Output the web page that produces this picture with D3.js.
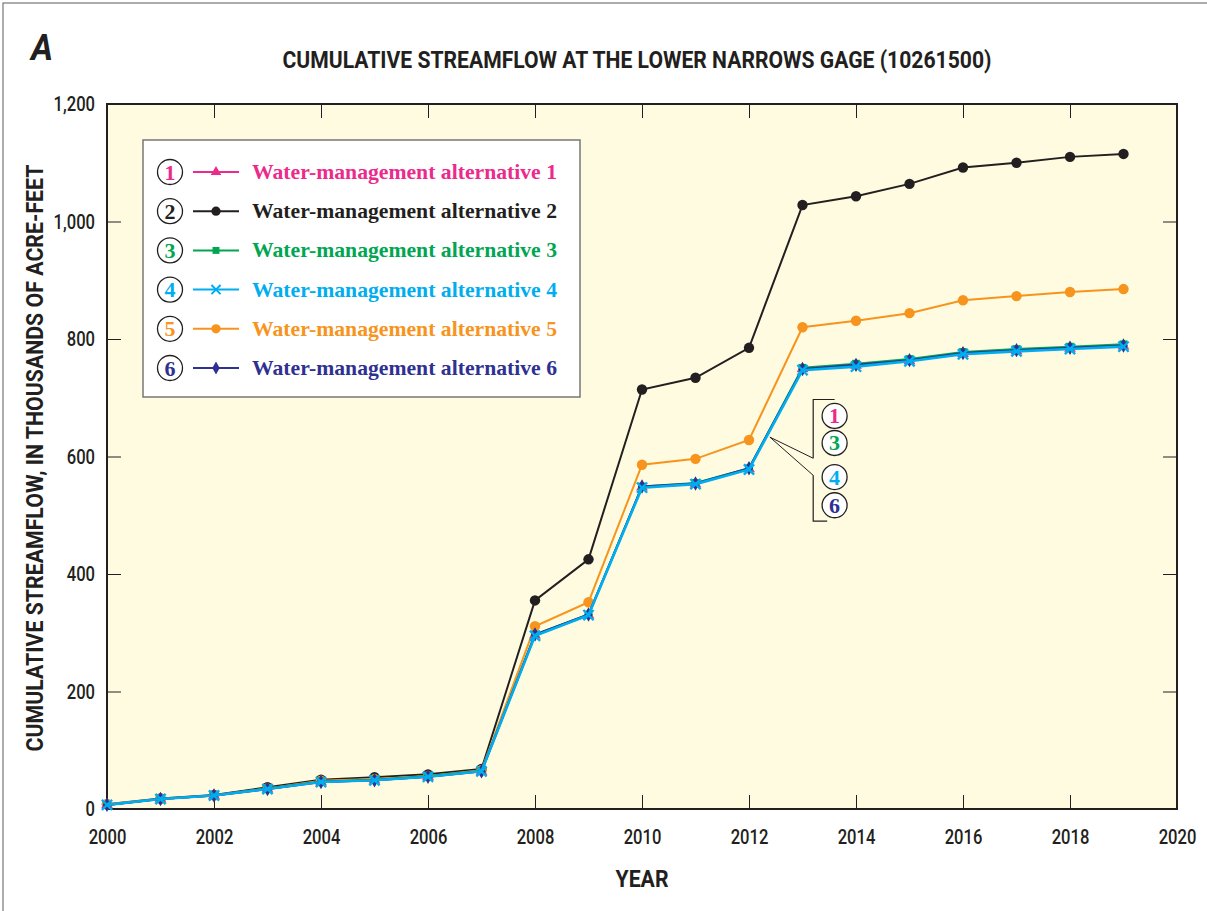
<!DOCTYPE html>
<html>
<head>
<meta charset="utf-8">
<script src="https://cdn.jsdelivr.net/npm/d3@7"></script>
<style>
  body { margin: 0; background: #fff; }
  .cond { font-family: "Liberation Sans Narrow", "Roboto", "Liberation Sans", sans-serif; }
  .serif { font-family: "Liberation Serif", "Times New Roman", serif; font-weight: bold; }
</style>
</head>
<body>
<div id="chart"></div>
<script>
// data (thousands of acre-feet)
const years = [2000, 2001, 2002, 2003, 2004, 2005, 2006, 2007, 2008, 2009,
               2010, 2011, 2012, 2013, 2014, 2015, 2016, 2017, 2018, 2019];
const alt1 = [7, 17, 23, 34, 46, 49, 55, 64, 296, 330, 548, 553, 579, 749, 755, 763, 775, 780, 784, 788];
const alt2 = [8, 18, 24, 37, 50, 54, 59, 68, 355, 425, 714, 734, 785, 1028, 1043, 1064, 1092, 1100, 1110, 1115];
const alt3 = [7, 17, 23, 35, 47, 50, 56, 65, 297, 331, 549, 555, 580, 751, 758, 766, 778, 783, 787, 791];
const alt4 = [7, 17, 23, 34, 46, 49, 55, 64, 295, 330, 547, 553, 578, 747, 753, 762, 774, 779, 783, 787];
const alt5 = [8, 17, 23, 35, 48, 51, 56, 66, 311, 352, 586, 596, 628, 820, 831, 844, 866, 873, 880, 885];
const alt6 = [7, 17, 23, 34, 46, 49, 55, 64, 297, 331, 549, 554, 580, 749, 756, 764, 776, 781, 785, 789];

const xTicks = [2000, 2002, 2004, 2006, 2008, 2010, 2012, 2014, 2016, 2018, 2020];
const yTicks = [0, 200, 400, 600, 800, 1000, 1200];

const series = [
  {id: 2, name: "Water-management alternative 2", values: alt2, color: "#231f20", symbol: d3.symbolCircle, size: 85},
  {id: 5, name: "Water-management alternative 5", values: alt5, color: "#f7941d", symbol: d3.symbolCircle, size: 85},
  {id: 1, name: "Water-management alternative 1", values: alt1, color: "#ec2a8c", symbol: d3.symbolTriangle, size: 60},
  {id: 3, name: "Water-management alternative 3", values: alt3, color: "#00a651", symbol: d3.symbolSquare, size: 60},
  {id: 6, name: "Water-management alternative 6", values: alt6, color: "#2e3192", symbol: d3.symbolDiamond, size: 60},
  {id: 4, name: "Water-management alternative 4", values: alt4, color: "#00aeef", symbol: d3.symbolX, size: 70}
];

const W = 1207, H = 911;
const margin = {top: 104, right: 30, bottom: 102, left: 107},
      width = 1177 - margin.left,
      height = 809 - margin.top;

const svg = d3.select("#chart")
  .append("svg")
    .attr("width", W)
    .attr("height", H);

// squeeze a text sideways to mimic the condensed face of the original
function condense(sel, k) {
  sel.each(function() {
    const len = this.getComputedTextLength();
    d3.select(this).attr("textLength", len * k).attr("lengthAdjust", "spacingAndGlyphs");
  });
}

// outer frame of the figure
svg.append("rect")
  .attr("x", 3).attr("y", 3)
  .attr("width", W + 10).attr("height", H + 10)
  .attr("fill", "none")
  .attr("stroke", "#777")
  .attr("stroke-width", 1.2);

const g = svg.append("g")
  .attr("transform", `translate(${margin.left},${margin.top})`);

const x = d3.scaleLinear().domain([2000, 2020]).range([0, width]);
const y = d3.scaleLinear().domain([0, 1200]).range([height, 0]);

// plot background
g.append("rect")
  .attr("width", width)
  .attr("height", height)
  .attr("fill", "#fefbe0");

// axes, ticks point inward
g.append("g")
  .attr("class", "cond")
  .attr("transform", `translate(0,${height})`)
  .call(d3.axisBottom(x).tickValues(xTicks).tickFormat(d3.format("d"))
        .tickSizeInner(-14).tickSizeOuter(0).tickPadding(20));
g.append("g")
  .attr("class", "cond")
  .call(d3.axisLeft(y).tickValues(yTicks).tickFormat(d3.format(","))
        .tickSizeInner(-14).tickSizeOuter(0).tickPadding(12));
g.append("g")
  .call(d3.axisTop(x).tickValues(xTicks).tickFormat("").tickSizeInner(-14).tickSizeOuter(0));
g.append("g")
  .attr("transform", `translate(${width},0)`)
  .call(d3.axisRight(y).tickValues(yTicks).tickFormat("").tickSizeInner(-14).tickSizeOuter(0));

g.selectAll(".domain").remove();
g.selectAll(".tick line").attr("stroke", "#231f20").attr("stroke-width", 1);
g.selectAll(".tick text")
  .attr("fill", "#231f20")
  .style("font-size", "21px")
  .style("font-weight", "500")
  .call(condense, 0.79);

// frame around the plot
g.append("rect")
  .attr("width", width)
  .attr("height", height)
  .attr("fill", "none")
  .attr("stroke", "#231f20")
  .attr("stroke-width", 2);

// lines + markers
const line = d3.line()
  .x((d, i) => x(years[i]))
  .y(d => y(d));

series.forEach(s => {
  g.append("path")
    .datum(s.values)
    .attr("fill", "none")
    .attr("stroke", s.color)
    .attr("stroke-width", s.id === 4 ? 2.6 : 2)
    .attr("d", line);

  g.selectAll(".pt" + s.id)
    .data(s.values)
    .enter().append("path")
      .attr("class", "pt" + s.id)
      .attr("transform", (d, i) => `translate(${x(years[i])},${y(d)})`)
      .attr("d", d3.symbol().type(s.symbol).size(s.size))
      .attr("fill", s.id === 4 ? "none" : s.color)
      .attr("stroke", s.id === 4 ? s.color : "none")
      .attr("stroke-width", 2.4);
});

// legend
const legendOrder = [1, 2, 3, 4, 5, 6];
const legend = g.append("g")
  .attr("transform", `translate(${143 - margin.left},${140 - margin.top})`);

legend.append("rect")
  .attr("width", 437)
  .attr("height", 257)
  .attr("fill", "#fff")
  .attr("stroke", "#777")
  .attr("stroke-width", 1.5);

legendOrder.forEach((id, i) => {
  const s = series.find(d => d.id === id);
  const row = legend.append("g")
    .attr("transform", `translate(0,${32 + i * 39.2})`);

  row.append("circle")
    .attr("cx", 27).attr("cy", 0).attr("r", 12.5)
    .attr("fill", "#fff")
    .attr("stroke", "#231f20")
    .attr("stroke-width", 1.3);
  row.append("text")
    .attr("class", "serif")
    .attr("x", 27).attr("y", 7.5)
    .attr("text-anchor", "middle")
    .style("font-size", "22px")
    .attr("fill", s.color)
    .text(id);

  row.append("line")
    .attr("x1", 50).attr("x2", 96)
    .attr("stroke", s.color)
    .attr("stroke-width", 2);
  row.append("path")
    .attr("transform", "translate(73,0)")
    .attr("d", d3.symbol().type(s.symbol).size(s.size * 0.8))
    .attr("fill", id === 4 ? "none" : s.color)
    .attr("stroke", id === 4 ? s.color : "none")
    .attr("stroke-width", 2);

  row.append("text")
    .attr("class", "serif")
    .attr("x", 109).attr("y", 7)
    .attr("textLength", 305).attr("lengthAdjust", "spacingAndGlyphs")
    .style("font-size", "21.5px")
    .attr("fill", s.color)
    .text(s.name);
});

// callout for the overlapping alternatives 1, 3, 4, 6
const callIds = [1, 3, 4, 6];
const callY = [669, 623, 565, 517];
const bx = x(2013.2), cx = x(2013.6);
const anchor = [x(2012.39), y(633)];

g.append("path")
  .attr("d", `M${cx},${y(697)}H${bx}V${y(597)}`)
  .attr("fill", "none").attr("stroke", "#231f20").attr("stroke-width", 1.2);
g.append("path")
  .attr("d", `M${bx},${y(568)}V${y(490)}H${bx + 14}`)
  .attr("fill", "none").attr("stroke", "#231f20").attr("stroke-width", 1.2);
g.append("path")
  .attr("d", `M${bx},${y(597)}L${anchor[0]},${anchor[1]}L${bx},${y(568)}`)
  .attr("fill", "none").attr("stroke", "#231f20").attr("stroke-width", 1);

callIds.forEach((id, i) => {
  const s = series.find(d => d.id === id);
  g.append("circle")
    .attr("cx", cx).attr("cy", y(callY[i])).attr("r", 12.5)
    .attr("fill", "#fff").attr("stroke", "#231f20").attr("stroke-width", 1.3);
  g.append("text")
    .attr("class", "serif")
    .attr("x", cx).attr("y", y(callY[i]) + 7.5)
    .attr("text-anchor", "middle")
    .style("font-size", "22px")
    .attr("fill", s.color)
    .text(id);
});

// titles
svg.append("text")
  .attr("x", 31).attr("y", 60)
  .attr("class", "cond")
  .attr("textLength", 22).attr("lengthAdjust", "spacingAndGlyphs")
  .style("font-weight", "bold").style("font-style", "italic")
  .style("font-size", "36px")
  .attr("fill", "#231f20")
  .text("A");

svg.append("text")
  .attr("class", "cond")
  .attr("x", 637).attr("y", 68)
  .attr("text-anchor", "middle")
  .attr("textLength", 709).attr("lengthAdjust", "spacingAndGlyphs")
  .style("font-weight", "bold").style("font-size", "23px")
  .attr("fill", "#231f20")
  .text("CUMULATIVE STREAMFLOW AT THE LOWER NARROWS GAGE (10261500)");

svg.append("text")
  .attr("class", "cond")
  .attr("x", margin.left + width / 2).attr("y", 887)
  .attr("text-anchor", "middle")
  .attr("textLength", 53).attr("lengthAdjust", "spacingAndGlyphs")
  .style("font-weight", "bold").style("font-size", "23px")
  .attr("fill", "#231f20")
  .text("YEAR");

svg.append("text")
  .attr("class", "cond")
  .attr("transform", "translate(43,458) rotate(-90)")
  .attr("text-anchor", "middle")
  .attr("textLength", 587).attr("lengthAdjust", "spacingAndGlyphs")
  .style("font-weight", "bold").style("font-size", "23px")
  .attr("fill", "#231f20")
  .text("CUMULATIVE STREAMFLOW, IN THOUSANDS OF ACRE-FEET");
</script>
</body>
</html>
